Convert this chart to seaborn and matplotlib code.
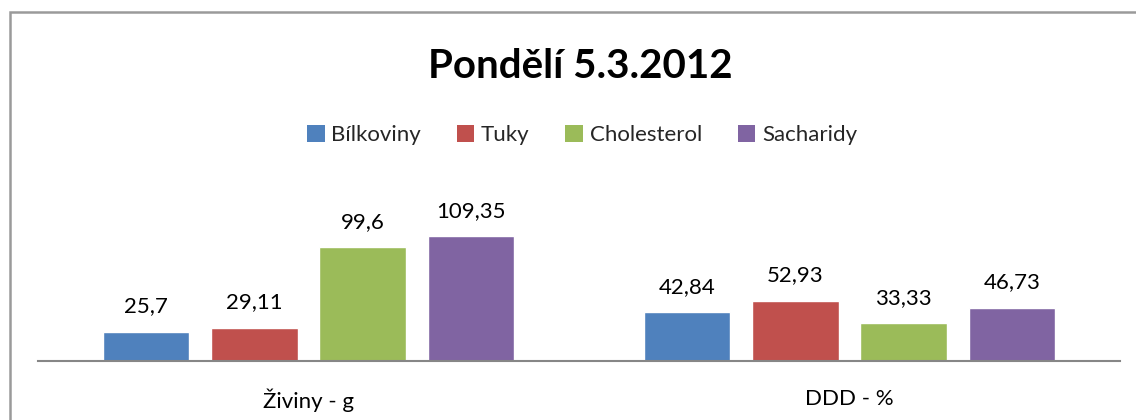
import seaborn as sns
import matplotlib.pyplot as plt
import pandas as pd
from matplotlib.patches import Rectangle, Patch

# ---------- DATA ----------
categories = ["Živiny - g", "DDD - %"]
nutrients = ["Bílkoviny", "Tuky", "Cholesterol", "Sacharidy"]
bilkoviny = [25.7, 42.84]
tuky = [29.11, 52.93]
cholesterol = [99.6, 33.33]
sacharidy = [109.35, 46.73]
colors = ["#4F81BD", "#C0504D", "#9BBB59", "#8064A2"]

rows = []
for name, vals in zip(nutrients, [bilkoviny, tuky, cholesterol, sacharidy]):
    for cat, v in zip(categories, vals):
        rows.append({"kategorie": cat, "zivina": name, "hodnota": v})
df = pd.DataFrame(rows)

# ---------- PLOT ----------
sns.set_theme(style="white")
plt.rcParams["font.family"] = ["Lato", "DejaVu Sans"]

fig = plt.figure(figsize=(11.36, 4.2), dpi=100)
ax = fig.add_axes([38 / 1136, 1 - 361 / 420, 1082 / 1136, 160 / 420])

sns.barplot(data=df, x="kategorie", y="hodnota", hue="zivina",
            order=categories, hue_order=nutrients, palette=colors,
            gap=0.2, ax=ax, legend=False, saturation=1)

for cont in ax.containers:
    labels = [str(v).replace(".", ",") for v in cont.datavalues]
    ax.bar_label(cont, labels=labels, padding=11, fontsize=16, color="black")

ax.set_ylim(0, 140)
ax.set_xlim(-0.5, 1.5)
ax.set_xlabel("")
ax.set_ylabel("")
ax.set_yticks([])
for s in ["top", "left", "right"]:
    ax.spines[s].set_visible(False)
ax.spines["bottom"].set_color("#868686")
ax.spines["bottom"].set_linewidth(1.5)
ax.tick_params(axis="x", length=0, pad=20, labelsize=16, colors="black")

# chart border
fig.patches.append(Rectangle((10 / 1136, -0.1), 1.2, 0.1 + 1 - 12 / 420,
                             transform=fig.transFigure, fill=False,
                             edgecolor="#9A9A9A", linewidth=1.8))

fig.text(580 / 1136, 1 - 66 / 420, "Pondělí 5.3.2012", ha="center", va="center",
         fontsize=29, fontweight="bold", color="black")

handles = [Patch(facecolor=c, edgecolor="none") for c in colors]
fig.legend(handles, nutrients, loc="center", bbox_to_anchor=(582 / 1136, 1 - 135 / 420),
           ncol=4, frameon=False, fontsize=16, handlelength=0.8, handleheight=0.8,
           handletextpad=0.3, columnspacing=1.6)

plt.savefig("out.png", dpi=100)
